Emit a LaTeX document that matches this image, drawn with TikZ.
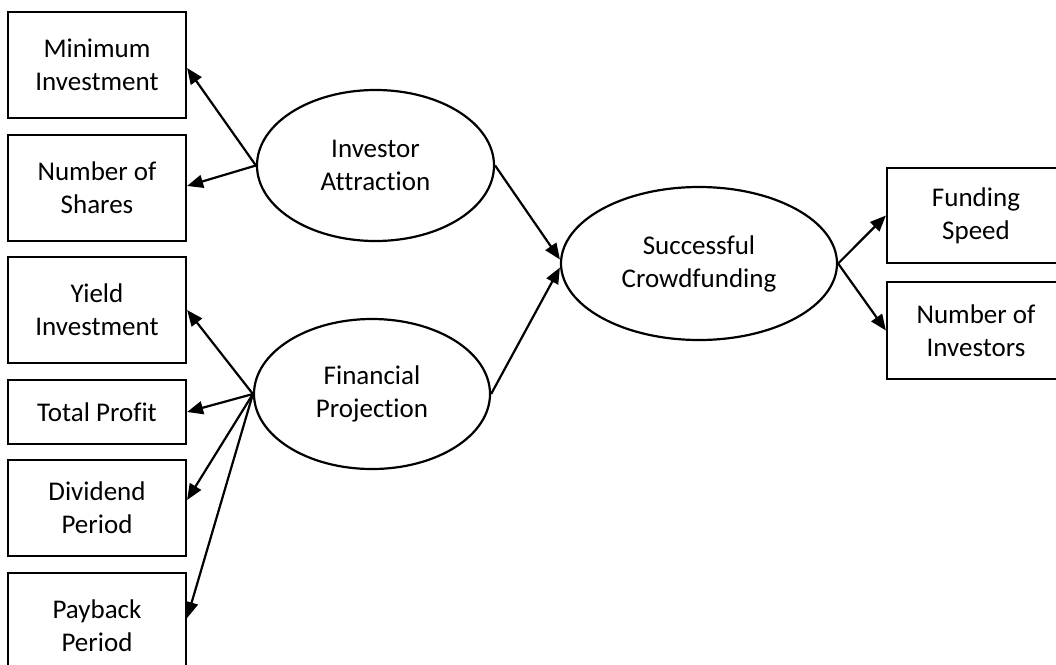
\documentclass[tikz,border=0pt]{standalone}
\usepackage{fontspec}
\setmainfont{Carlito}[Ligatures=CommonOff]
\usetikzlibrary{shapes.geometric,arrows.meta}
\begin{document}
\begin{tikzpicture}[x=1pt,y=-1pt,
  box/.style={draw,line width=2.2pt,rectangle,minimum width=178pt,inner sep=0pt,align=center,font=\fontsize{27}{33}\selectfont},
  oval/.style={draw,line width=2.2pt,ellipse,inner sep=0pt,align=center,font=\fontsize{27}{33}\selectfont},
  arr/.style={line width=2.2pt,-{Triangle[length=16pt,width=13pt]}}]
\useasboundingbox (0,0) rectangle (1056,664);
\node[box,minimum height=106pt] (MI) at (97,65) {Minimum\\Investment};
\node[box,minimum height=106pt] (NS) at (97,188) {Number of\\Shares};
\node[box,minimum height=106pt] (YI) at (97,310) {Yield\\Investment};
\node[box,minimum height=64pt] (TP) at (97,412) {Total Profit};
\node[box,minimum height=96pt] (DP) at (97,508) {Dividend\\Period};
\node[box,minimum height=106pt] (PP) at (97,626) {Payback\\Period};
\node[box,minimum height=95pt] (FS) at (976,215.5) {Funding\\Speed};
\node[box,minimum height=97pt] (NI) at (976,330.5) {Number of\\Investors};
\node[oval,minimum width=237pt,minimum height=151pt] (IA) at (375.5,165.5) {Investor\\Attraction};
\node[oval,minimum width=236pt,minimum height=150pt] (FP) at (372,394) {Financial\\Projection};
\node[oval,minimum width=276pt,minimum height=153pt] (SC) at (699,263.5) {Successful\\Crowdfunding};
\draw[arr] (IA.west) -- ([yshift=-3pt]MI.east);
\draw[arr] (IA.west) -- ([yshift=2pt]NS.east);
\draw[arr] (FP.west) -- (YI.east);
\draw[arr] (FP.west) -- (TP.east);
\draw[arr] (FP.west) -- ([yshift=8pt]DP.east);
\draw[arr] (FP.west) -- ([yshift=8pt]PP.east);
\draw[arr] (IA.east) -- ([yshift=4pt]SC.west);
\draw[arr] (FP.east) -- ([yshift=-4pt]SC.west);
\draw[arr] (SC.east) -- (FS.west);
\draw[arr] (SC.east) -- (NI.west);
\end{tikzpicture}
\end{document}
